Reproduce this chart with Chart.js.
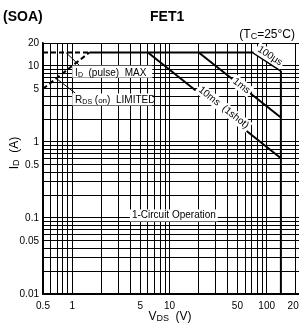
<!DOCTYPE html>
<html>
<head>
<meta charset="utf-8">
<script src="https://cdn.jsdelivr.net/npm/chart.js@4.4.1/dist/chart.umd.min.js"></script>
<style>
html, body { margin: 0; padding: 0; background: #fff; overflow: hidden; }
canvas { display: block; }
</style>
</head>
<body>
<canvas id="soa" width="299" height="323"></canvas>
<script>
var FONT = '"Liberation Sans", Arial, sans-serif';

// safe operating area, VDS (V) vs ID (A)
var rdsV = [0.5, 1.5],        rdsI = [5, 15];
var pulseDashV = [0.5, 1.5],  pulseDashI = [15, 15];
var us100V = [1.5, 72, 140],  us100I = [15, 15, 8.6];
var ms1V = [20, 140],         ms1I = [15, 2.1];
var ms10V = [6, 140],         ms10I = [15, 0.61];
var vdssV = [140, 140],       vdssI = [0.01, 8.6];

// axes
var xGrid = [0.5, 0.6, 0.7, 0.8, 0.9, 1, 2, 3, 4, 5, 6, 7, 8, 9, 10, 20, 30, 40, 50, 60, 70, 80, 90, 100, 200];
var xLabels = [0.5, 1, 5, 10, 50, 100, 200];
var yGrid = [0.01, 0.02, 0.03, 0.04, 0.05, 0.06, 0.07, 0.08, 0.09, 0.1, 0.2, 0.3, 0.4, 0.5, 0.6, 0.7, 0.8, 0.9, 1, 2, 3, 4, 5, 6, 7, 8, 9, 10, 20];
var yLabels = [0.01, 0.05, 0.1, 0.5, 1, 5, 10, 20];

function pts(xs, ys) {
    var out = [];
    for (var i = 0; i < xs.length; i++) out.push({x: xs[i], y: ys[i]});
    return out;
}

function line(xs, ys, dash) {
    return {
        data: pts(xs, ys),
        showLine: true,
        borderColor: '#000',
        borderWidth: 2,
        borderDash: dash || [],
        pointRadius: 0,
        fill: false
    };
}

// draws text pieces with sub scripts, parts = [[text, size, dy], ...]
function drawParts(ctx, parts, x, y, align) {
    var w = 0, i;
    for (i = 0; i < parts.length; i++) {
        ctx.font = parts[i][1] + 'px ' + FONT;
        w += ctx.measureText(parts[i][0]).width;
    }
    var cx = align == 'center' ? x - w / 2 : (align == 'right' ? x - w : x);
    ctx.textAlign = 'left';
    ctx.textBaseline = 'alphabetic';
    for (i = 0; i < parts.length; i++) {
        ctx.font = parts[i][1] + 'px ' + FONT;
        ctx.fillText(parts[i][0], cx, y + (parts[i][2] || 0));
        cx += ctx.measureText(parts[i][0]).width;
    }
    return w;
}

function boxText(ctx, txt, cx, cy, angle) {
    ctx.save();
    ctx.translate(cx, cy);
    ctx.rotate(angle);
    ctx.font = '10px ' + FONT;
    var w = ctx.measureText(txt).width;
    ctx.fillStyle = '#fff';
    ctx.fillRect(-w / 2 - 2, -6, w + 4, 12);
    ctx.fillStyle = '#000';
    ctx.textAlign = 'center';
    ctx.textBaseline = 'middle';
    ctx.fillText(txt, 0, 0);
    ctx.restore();
}

var annotations = {
    id: 'annotations',
    afterDatasetsDraw: function(chart) {
        var ctx = chart.ctx, sx = chart.scales.x, sy = chart.scales.y;
        function px(v) { return sx.getPixelForValue(v); }
        function py(v) { return sy.getPixelForValue(v); }
        function ang(xs, ys, k) {
            return Math.atan2(py(ys[k + 1]) - py(ys[k]), px(xs[k + 1]) - px(xs[k]));
        }
        ctx.save();
        ctx.strokeStyle = '#000';
        ctx.lineWidth = 1;
        // leader lines
        ctx.beginPath();
        ctx.moveTo(px(0.86), py(15)); ctx.lineTo(px(1.2), py(10));
        ctx.moveTo(px(0.68), py(6.9)); ctx.lineTo(px(1.07), py(4.4));
        ctx.stroke();

        // labels with white background
        ctx.fillStyle = '#fff';
        ctx.fillRect(px(1.0), py(8.4) - 6, 80, 12);
        ctx.fillRect(px(1.0), py(3.62) - 6, 80, 12);
        ctx.fillStyle = '#000';
        drawParts(ctx, [['I', 10], ['D', 7, 1], ['  (pulse)  MAX', 10]], px(1.07), py(8.4) + 4, 'left');
        drawParts(ctx, [['R', 10], ['DS', 7, 1], [' (', 10], ['on', 8], [')  LIMITED', 10]], px(1.07), py(3.62) + 4, 'left');

        boxText(ctx, '1-Circuit Operation', px(11.1), py(0.108), 0);
        boxText(ctx, '100\u03bcs', px(108), py(13.5), ang(us100V, us100I, 1));
        boxText(ctx, '1ms', px(55), py(15 * 20 / 55), ang(ms1V, ms1I, 0));
        boxText(ctx, '10ms  (1shot)', px(36), py(15 * 6 / 36) - 4, ang(ms10V, ms10I, 0));

        // titles
        ctx.fillStyle = '#000';
        ctx.font = 'bold 14px ' + FONT;
        ctx.textAlign = 'left';
        ctx.textBaseline = 'alphabetic';
        ctx.fillText('(SOA)', 3, 21);
        ctx.fillText('FET1', 150, 21);
        drawParts(ctx, [['(T', 12], ['C', 9, 1], ['=25\u00b0C)', 12]], 295, 38, 'right');
        drawParts(ctx, [['V', 12], ['DS', 9, 1], ['  (V)', 12]], 170, 320, 'center');
        ctx.save();
        ctx.translate(18, 153);
        ctx.rotate(-Math.PI / 2);
        drawParts(ctx, [['I', 12], ['D', 9, 1], ['  (A)', 12]], 0, 0, 'center');
        ctx.restore();
        ctx.restore();
    }
};

var ctx = document.getElementById('soa').getContext('2d');
var chart = new Chart(ctx, {
    type: 'scatter',
    data: {
        datasets: [
            line(rdsV, rdsI, [5, 3]),
            line(pulseDashV, pulseDashI, [5, 3]),
            line(us100V, us100I),
            line(ms1V, ms1I),
            line(ms10V, ms10I),
            line(vdssV, vdssI)
        ]
    },
    options: {
        responsive: false,
        devicePixelRatio: 1,
        animation: false,
        layout: { padding: { top: 43, left: 0, right: 0, bottom: 0 } },
        plugins: { legend: { display: false }, tooltip: { enabled: false } },
        scales: {
            x: {
                type: 'logarithmic',
                min: 0.5,
                max: 215,
                afterBuildTicks: function(scale) {
                    scale.ticks = xGrid.map(function(v) { return {value: v}; });
                },
                afterFit: function(scale) {
                    scale.height = 29;
                    scale.paddingRight = 0;
                },
                grid: { color: '#000', lineWidth: 1, drawTicks: false },
                border: { color: '#000', width: 1.5 },
                ticks: {
                    autoSkip: false,
                    maxRotation: 0,
                    padding: 6,
                    color: '#000',
                    font: { family: FONT, size: 10 },
                    callback: function(v) { return xLabels.indexOf(v) >= 0 ? String(v) : ''; }
                }
            },
            y: {
                type: 'logarithmic',
                min: 0.01,
                max: 20,
                afterBuildTicks: function(scale) {
                    scale.ticks = yGrid.map(function(v) { return {value: v}; });
                },
                afterFit: function(scale) {
                    scale.width = 43;
                },
                grid: { color: '#000', lineWidth: 1, drawTicks: false },
                border: { color: '#000', width: 1.5 },
                ticks: {
                    autoSkip: false,
                    padding: 4,
                    color: '#000',
                    font: { family: FONT, size: 10 },
                    callback: function(v) { return yLabels.indexOf(v) >= 0 ? String(v) : ''; }
                }
            }
        }
    },
    plugins: [annotations]
});
</script>
</body>
</html>
